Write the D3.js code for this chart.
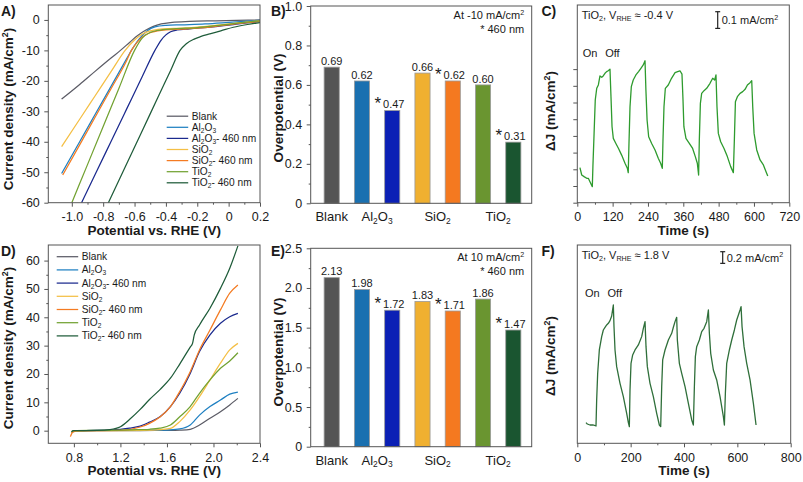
<!DOCTYPE html>
<html><head><meta charset="utf-8">
<script src="https://cdn.jsdelivr.net/npm/d3@7"></script>
<style>
body{margin:0;background:#fff}
svg{display:block;font-family:Arial,"Liberation Sans",sans-serif}
</style></head><body>
<svg id="c" width="803" height="482"></svg>
<script>
// ---------------- DATA ----------------
const seriesNames = ["Blank","Al_{2}O_{3}","Al_{2}O_{3}- 460 nm","SiO_{2}","SiO_{2}- 460 nm","TiO_{2}","TiO_{2}- 460 nm"];
const lineColors = ["#5c5c66","#1f80c2","#1b2a8e","#f4bf45","#f47b22","#72a232","#1f5c3a"];
const barCategories = ["Blank","Al2O3","Al2O3-460","SiO2","SiO2-460","TiO2","TiO2-460"];
const barColors = ["#555555","#1a70b0","#0b20b5","#f0b030","#f47920","#6a9530","#1a5530"];
const is460 = [false,false,true,false,true,false,true];
const groupLabels = ["Blank","Al_{2}O_{3}","SiO_{2}","TiO_{2}"];
const groupMembers = [["Blank"],["Al2O3","Al2O3-460"],["SiO2","SiO2-460"],["TiO2","TiO2-460"]];
const herOverpotential = [0.69,0.62,0.47,0.66,0.62,0.60,0.31];
const oerOverpotential = [2.13,1.98,1.72,1.83,1.71,1.86,1.47];

// HER LSV (E vs RHE, J mA/cm2)
const herBlank = [[-1.065,-26],[-0.95,-21.2],[-0.85,-16.8],[-0.75,-12.5],[-0.69,-10],[-0.63,-7.3],[-0.58,-5.1],[-0.53,-3.4],[-0.48,-2.1],[-0.43,-1.3],[-0.36,-0.8],[-0.25,-0.5],[-0.1,-0.3],[0.05,-0.15],[0.2,0]];
const herAl2O3 = [[-1.065,-50.4],[-0.95,-40],[-0.85,-30.9],[-0.75,-21.8],[-0.65,-12.7],[-0.62,-10],[-0.57,-6.2],[-0.52,-3.6],[-0.47,-2.3],[-0.4,-1.8],[-0.3,-1.6],[-0.15,-1.3],[0,-0.8],[0.1,-0.45],[0.2,-0.15]];
const herAl2O3_460 = [[-0.938,-60],[-0.85,-50.6],[-0.75,-39.9],[-0.65,-29.2],[-0.55,-18.5],[-0.47,-10],[-0.43,-6.6],[-0.4,-4.9],[-0.37,-3.9],[-0.33,-3.3],[-0.25,-2.9],[-0.1,-2.3],[0.05,-1.4],[0.2,-0.5]];
const herSiO2 = [[-1.065,-41.6],[-0.95,-32.6],[-0.85,-24.8],[-0.75,-17],[-0.66,-10],[-0.6,-6.6],[-0.55,-4.6],[-0.5,-3.6],[-0.45,-3.1],[-0.35,-2.8],[-0.2,-2.4],[-0.05,-1.6],[0.1,-0.8],[0.2,-0.3]];
const herSiO2_460 = [[-1.058,-50.9],[-0.95,-41],[-0.85,-31.8],[-0.75,-22.6],[-0.65,-13.3],[-0.62,-10],[-0.58,-7.1],[-0.53,-4.9],[-0.48,-3.9],[-0.4,-3.3],[-0.3,-3.0],[-0.2,-2.7],[-0.05,-1.9],[0.1,-1.0],[0.2,-0.5]];
const herTiO2 = [[-1.0,-60],[-0.9,-47.5],[-0.8,-35],[-0.7,-22.5],[-0.6,-10],[-0.55,-5.9],[-0.5,-4.1],[-0.45,-3.4],[-0.35,-2.9],[-0.2,-2.5],[-0.05,-1.7],[0.1,-0.8],[0.2,-0.3]];
const herTiO2_460 = [[-0.767,-60],[-0.65,-47.2],[-0.55,-36.3],[-0.45,-25.3],[-0.37,-16.6],[-0.31,-10],[-0.27,-7.8],[-0.22,-6.3],[-0.18,-5.5],[-0.12,-4.6],[-0.05,-3.6],[0.03,-2.4],[0.12,-1.5],[0.2,-0.9]];

// OER LSV
const oerBlank = [[0.78,-0.6],[0.8,-0.2],[0.9,0],[1.2,0],[1.5,0.1],[1.63,0.1],[1.71,0.2],[1.8,0.5],[1.88,2],[1.97,4.4],[2.06,6.7],[2.14,9.1],[2.21,11.4]];
const oerAl2O3 = [[0.78,-0.8],[0.8,-0.2],[0.9,0],[1.2,0.1],[1.5,0.2],[1.63,0.3],[1.71,0.6],[1.8,2],[1.88,5.5],[1.97,8.5],[2.06,10.8],[2.14,12.9],[2.21,13.6]];
const oerAl2O3_460 = [[0.78,-0.5],[0.8,0],[1.0,0.1],[1.2,0.5],[1.28,0.9],[1.37,1.6],[1.45,3.0],[1.54,4.9],[1.63,8.5],[1.71,13.2],[1.8,20.2],[1.88,27.9],[1.97,33.8],[2.06,37.9],[2.14,40.2],[2.21,41.4]];
const oerSiO2 = [[0.78,-0.7],[0.8,-0.2],[1.0,0],[1.4,0.1],[1.55,0.4],[1.63,0.8],[1.71,3.2],[1.8,7.3],[1.88,12],[1.97,17.9],[2.06,23.8],[2.14,28.5],[2.21,30.8]];
const oerSiO2_460 = [[0.77,-2.1],[0.79,-0.5],[0.85,0],[1.2,0.1],[1.37,1.3],[1.45,2.6],[1.54,4.8],[1.63,8.5],[1.71,13.8],[1.8,20.8],[1.88,28.5],[1.97,35.5],[2.06,42.6],[2.14,48.5],[2.21,51.4]];
const oerTiO2 = [[0.78,-0.4],[0.8,0],[1.0,0.1],[1.3,0.3],[1.45,0.5],[1.54,0.9],[1.63,2],[1.71,4.9],[1.8,8.5],[1.88,13.2],[1.97,17.9],[2.06,22],[2.14,24.6],[2.21,27.5]];
const oerTiO2_460 = [[0.78,-0.3],[0.8,0],[1.0,0.1],[1.11,0.4],[1.2,1.4],[1.28,4],[1.37,7.5],[1.45,11],[1.54,14.5],[1.63,18.5],[1.71,23.5],[1.8,29.5],[1.82,30.8],[1.835,33.8],[1.88,37.3],[1.97,43.2],[2.06,50.2],[2.14,57.3],[2.21,65.2]];

// Chopped-light transients (t in s, dJ in mA/cm2)
const herChop = [[9,0.21],[15,0.166],[23,0.156],[32,0.146],[37.5,0.146],[43,0.126],[51,0.096],
[53,0.216],[57,0.415],[61,0.615],[66,0.685],[71.5,0.705],[77,0.759],[83,0.751],[88,0.759],[94,0.775],[99.7,0.785],[105,0.79],[111,0.8],
[114.4,0.635],[118,0.455],[122.3,0.385],[131,0.355],[140,0.325],[150.6,0.285],[162,0.236],[170,0.206],[173,0.18],
[175.5,0.355],[179,0.575],[183.5,0.695],[190,0.735],[199,0.765],[208,0.785],[216,0.805],[224,0.825],[230,0.85],
[233,0.675],[237,0.495],[242.4,0.395],[252.6,0.355],[264,0.316],[275,0.266],[283,0.236],[288.7,0.206],
[291,0.375],[294.4,0.575],[299,0.685],[309,0.705],[320,0.745],[332,0.779],[340.8,0.785],[348.7,0.79],[355.5,0.77],
[359,0.615],[362,0.455],[369,0.385],[380.4,0.355],[391.7,0.325],[400.8,0.276],[407.6,0.236],[412,0.166],
[414.4,0.375],[418,0.595],[422.4,0.655],[430.3,0.671],[439.4,0.685],[450.7,0.715],[459.8,0.745],[466.6,0.735],[471,0.765],
[474.4,0.575],[479,0.415],[487,0.365],[498.3,0.325],[509.6,0.276],[521,0.216],[530,0.18],
[533.4,0.375],[537,0.605],[543.7,0.635],[552.8,0.655],[561.8,0.665],[569.8,0.679],[577.7,0.705],[586.8,0.719],[592.4,0.731],
[595.8,0.575],[600.4,0.415],[609.4,0.316],[620.7,0.256],[632,0.226],[641,0.186],[646.8,0.16]];
const oerChop = [[32.6,0.354],[37.6,0.331],[47.6,0.314],[60.1,0.314],[70.1,0.297],
[72.6,0.743],[76.4,1.2],[82.6,1.6],[91.4,1.829],[97.6,1.943],[103.9,1.989],[110.1,2.029],[116.4,2.057],[122.6,2.103],[128.9,2.183],[132.6,2.297],[135.1,2.371],
[137.6,2.0],[141.4,1.6],[147.6,1.314],[160.1,1.029],[172.6,0.8],[185.1,0.514],[191.4,0.354],[195.1,0.286],
[197.6,0.914],[201.4,1.371],[207.6,1.514],[216.4,1.6],[228.9,1.686],[241.4,1.829],[247.6,1.971],[253.9,2.086],
[257.6,1.657],[262.6,1.314],[272.6,1.029],[285.1,0.8],[297.6,0.514],[307.6,0.314],[312.6,0.286],
[316.4,0.971],[320.1,1.429],[328.9,1.6],[341.4,1.771],[353.9,1.886],[360.1,1.989],[366.4,2.086],[372.6,2.16],
[375.1,1.771],[382.6,1.371],[391.4,1.2],[403.9,0.971],[416.4,0.686],[428.9,0.4],[435.1,0.314],
[438.9,0.971],[442.6,1.486],[447.6,1.657],[457.6,1.771],[466.4,1.914],[475.1,1.971],[485.1,2.086],[491.4,2.286],
[495.1,1.886],[500.1,1.543],[510.1,1.257],[522.6,1.086],[535.1,0.8],[547.6,0.457],[551.4,0.314],
[555.1,0.857],[560.1,1.371],[570.1,1.6],[578.9,1.771],[588.9,1.943],[597.6,2.114],[603.9,2.2],[610.1,2.286],[613.9,2.343],
[617.6,2.0],[625.1,1.657],[635.1,1.371],[647.6,1.086],[660.1,0.686],[670.1,0.314]];

const herTicksX = [-1.0,-0.8,-0.6,-0.4,-0.2,0,0.2];
const herTicksY = [0,-10,-20,-30,-40,-50,-60];
const oerTicksX = [0.8,1.2,1.6,2.0,2.4];
const oerTicksY = [0,10,20,30,40,50,60];
const barTicksB = [0,0.2,0.4,0.6,0.8,1.0];
const barTicksE = [0,0.5,1.0,1.5,2.0,2.5];
const chopTicksC = [0,120,240,360,480,600,720];
const chopTicksF = [0,200,400,600,800];

// ---------------- HELPERS ----------------
const svg = d3.select('#c');
const AX = '#555', TXT = '#1a1a1a';

function rich(sel, str, fs) {
  const parts = str.split(/(_\{[^}]*\}|\^\{[^}]*\})/).filter(s => s.length);
  let shift = 0;
  parts.forEach(p => {
    let t = p, target = 0, size = fs;
    if (p.startsWith('_{')) { t = p.slice(2,-1); target = fs*0.2; size = fs*0.65; }
    else if (p.startsWith('^{')) { t = p.slice(2,-1); target = -fs*0.38; size = fs*0.65; }
    sel.append('tspan').attr('dy', target - shift).attr('font-size', size).text(t);
    shift = target;
  });
  return sel;
}
function text(x, y, str, fs, opts = {}) {
  const t = svg.append('text').attr('x', x).attr('y', y).attr('fill', TXT)
    .attr('font-size', fs).attr('text-anchor', opts.anchor || 'start')
    .attr('font-weight', opts.bold ? 'bold' : 'normal');
  if (opts.rotate) t.attr('x', 0).attr('y', 0).attr('transform', `translate(${x},${y}) rotate(-90)`).attr('dy','0.35em');
  rich(t, str, fs);
  return t;
}
function frame(x0, x1, y0, y1) {
  svg.append('rect').attr('x', x0).attr('y', y0).attr('width', x1-x0).attr('height', y1-y0)
    .attr('fill','none').attr('stroke', AX).attr('stroke-width', 1);
}
function styleAxis(g, fs) {
  g.select('.domain').remove();
  g.attr('font-family', null).attr('font-size', null);
  g.selectAll('line').attr('stroke', AX);
  g.selectAll('text').attr('font-size', fs).attr('fill', TXT);
}
function fmt1(v) { return Math.abs(v) < 1e-9 ? '0' : v.toFixed(1); }
function fmt0(v) { return String(Math.round(v)); }
function midpoints(t) { const m = []; for (let i = 0; i < t.length-1; i++) m.push((t[i]+t[i+1])/2); return m; }
function xAxis(scale, y, ticks, fmt, minor) {
  const g = svg.append('g').attr('transform', `translate(0,${y})`)
    .call(d3.axisBottom(scale).tickValues(ticks).tickSize(4).tickPadding(5.5).tickFormat(fmt));
  styleAxis(g, 12.5);
  if (minor) {
    const m = svg.append('g').attr('transform', `translate(0,${y})`)
      .call(d3.axisBottom(scale).tickValues(minor).tickSize(2).tickFormat(''));
    styleAxis(m, 12);
  }
}
function yAxis(scale, x, ticks, fmt, minor, noLabels) {
  const g = svg.append('g').attr('transform', `translate(${x},0)`)
    .call(d3.axisLeft(scale).tickValues(ticks).tickSize(4).tickPadding(4.5).tickFormat(noLabels ? '' : fmt));
  styleAxis(g, 12.5);
  if (minor) {
    const m = svg.append('g').attr('transform', `translate(${x},0)`)
      .call(d3.axisLeft(scale).tickValues(minor).tickSize(2).tickFormat(''));
    styleAxis(m, 12);
  }
}
let clipId = 0;
function clip(x0, x1, y0, y1) {
  const id = 'clip' + (clipId++);
  svg.append('clipPath').attr('id', id).append('rect').attr('x', x0).attr('y', y0).attr('width', x1-x0).attr('height', y1-y0);
  return `url(#${id})`;
}

// ---------------- PANEL A / D (LSV) ----------------
function lsvPanel(cfg) {
  const x = d3.scaleLinear().domain(cfg.xd).range([cfg.x0, cfg.x1]);
  const y = d3.scaleLinear().domain(cfg.yd).range([cfg.y1, cfg.y0]);
  const line = d3.line().x(d => x(d[0])).y(d => y(d[1])).curve(d3.curveMonotoneX);
  const cp = clip(cfg.x0, cfg.x1, cfg.y0, cfg.y1);
  const g = svg.append('g').attr('clip-path', cp);
  cfg.series.forEach((s, i) => {
    g.append('path').attr('d', line(s)).attr('fill','none').attr('stroke', lineColors[i]).attr('stroke-width', 1.25);
  });
  frame(cfg.x0, cfg.x1, cfg.y0, cfg.y1);
  xAxis(x, cfg.y1, cfg.xt, fmt1, midpoints(cfg.xt));
  yAxis(y, cfg.x0, cfg.yt, fmt0, midpoints(cfg.yt));
  // legend
  seriesNames.forEach((n, i) => {
    const yy = cfg.lgY + i*cfg.lgDy;
    svg.append('line').attr('x1', cfg.lgX).attr('x2', cfg.lgX+21.5).attr('y1', yy).attr('y2', yy)
      .attr('stroke', lineColors[i]).attr('stroke-width', 1.25);
    text(cfg.lgX+25, yy+3.5, n, 10.2);
  });
  text((cfg.x0+cfg.x1)/2, cfg.y1+32, 'Potential vs. RHE (V)', 13.5, {anchor:'middle', bold:true});
  text(12.7, cfg.ytitleY, 'Current density (mA/cm^{2})', 13.5, {anchor:'middle', bold:true, rotate:true});
}
lsvPanel({x0:48.3, x1:260, y0:5, y1:202.7, xd:[-1.15,0.2], yd:[-60,4.9],
  series:[herBlank,herAl2O3,herAl2O3_460,herSiO2,herSiO2_460,herTiO2,herTiO2_460],
  xt:herTicksX, yt:herTicksY, lgX:166.7, lgY:116.2, lgDy:11.1, ytitleY:109});
lsvPanel({x0:48.3, x1:260, y0:245, y1:443.3, xd:[0.58,2.4], yd:[-4.45,65.5],
  series:[oerBlank,oerAl2O3,oerAl2O3_460,oerSiO2,oerSiO2_460,oerTiO2,oerTiO2_460],
  xt:oerTicksX, yt:oerTicksY, lgX:56.7, lgY:256.7, lgDy:13.2, ytitleY:348});

// ---------------- PANEL B / E (bars) ----------------
function barPanel(cfg) {
  const x = d3.scaleBand().domain(barCategories).range([316.55, 528.45]).paddingInner(0.5).paddingOuter(0.25);
  const y = d3.scaleLinear().domain(cfg.yd).range([cfg.y1, cfg.y0]);
  cfg.values.forEach((v, i) => {
    const c = barCategories[i];
    svg.append('rect').attr('x', x(c)).attr('y', y(v)).attr('width', x.bandwidth()).attr('height', y(0)-y(v))
      .attr('fill', barColors[i]).attr('stroke', '#9a9a9a').attr('stroke-width', 0.8);
    const cx = x(c) + x.bandwidth()/2;
    svg.append('text').attr('x', cx + (is460[i] ? 1.5 : 0)).attr('y', y(v) - 2.2).attr('text-anchor','middle')
      .attr('font-size', 11).attr('fill', TXT).text(v.toFixed(2));
    if (is460[i]) {
      svg.append('text').attr('x', cx - 14.5).attr('y', y(v) - 1.2).attr('text-anchor','middle')
        .attr('font-size', 17).attr('fill', TXT).text('*');
    }
  });
  frame(cfg.x0, cfg.x1, cfg.y0, cfg.y1);
  yAxis(y, cfg.x0, cfg.yt, fmt1, midpoints(cfg.yt));
  groupLabels.forEach((g, i) => {
    const m = groupMembers[i];
    const cx = (x(m[0]) + x(m[m.length-1]) + x.bandwidth())/2;
    text(cx, cfg.y1 + 18, g, 13, {anchor:'middle'});
  });
  text(cfg.x1 - 7.5, cfg.y0 + 13, cfg.note, 11, {anchor:'end'});
  text(cfg.x1 - 7.5, cfg.y0 + 27, '* 460 nm', 11, {anchor:'end'});
  text(282.7, cfg.ytitleY, 'Overpotential (V)', 13.5, {anchor:'middle', bold:true, rotate:true});
}
barPanel({x0:310.7, x1:531.7, y0:6, y1:203.3, yd:[0,1.0], yt:barTicksB, values:herOverpotential,
  note:'At -10 mA/cm^{2}', ytitleY:108});
barPanel({x0:310.7, x1:531.7, y0:248.3, y1:446.7, yd:[0,2.5], yt:barTicksE, values:oerOverpotential,
  note:'At 10 mA/cm^{2}', ytitleY:352});

// ---------------- PANEL C / F (chopped light) ----------------
function chopPanel(cfg) {
  const x = d3.scaleLinear().domain(cfg.xd).range([cfg.x0, cfg.x1]);
  const y = d3.scaleLinear().domain(cfg.yd).range([cfg.y1, cfg.y0]);
  const line = d3.line().x(d => x(d[0])).y(d => y(d[1]));
  svg.append('path').attr('d', line(cfg.data)).attr('fill','none').attr('stroke', cfg.color).attr('stroke-width', 1.3)
    .attr('stroke-linejoin','round');
  frame(cfg.x0, cfg.x1, cfg.y0, cfg.y1);
  xAxis(x, cfg.y1, cfg.xt, fmt0, midpoints(cfg.xt));
  if (cfg.yTicks) yAxis(y, cfg.x0, cfg.yTicks, fmt0, null, true);
  text(cfg.x0 + 4.4, cfg.y0 + 14, `TiO_{2}, V_{RHE} ≈ ${cfg.pot}`, 11);
  text(cfg.onX, cfg.onY, 'On', 11);
  text(cfg.onX + 22.5, cfg.onY, 'Off', 11);
  // scale bar
  const sb = y(0) - y(cfg.sbVal);
  const sx = cfg.sbX, sy0 = cfg.sbY, sy1 = cfg.sbY + sb;
  svg.append('line').attr('x1', sx).attr('x2', sx).attr('y1', sy0).attr('y2', sy1).attr('stroke', '#222').attr('stroke-width', 1.2);
  [sy0, sy1].forEach(yy => svg.append('line').attr('x1', sx-2.5).attr('x2', sx+2.5).attr('y1', yy).attr('y2', yy).attr('stroke','#222').attr('stroke-width',1.2));
  text(sx + 4, (sy0+sy1)/2 + 4, `${cfg.sbVal} mA/cm^{2}`, 11);
  text((cfg.x0+cfg.x1)/2, cfg.y1 + 32, 'Time (s)', 13.5, {anchor:'middle', bold:true});
  text(555, cfg.ytitleY, 'ΔJ (mA/cm^{2})', 13.5, {anchor:'middle', bold:true, rotate:true});
}
chopPanel({x0:577.3, x1:789.3, y0:5, y1:202.7, xd:[0,720], yd:[0,1.184], xt:chopTicksC, data:herChop,
  color:'#2e9b2e', pot:'-0.4 V', onX:582.7, onY:56.5, sbVal:0.1, sbX:717.7, sbY:11.7,
  yTicks:[0,0.1,0.2,0.3,0.4,0.5,0.6,0.7,0.8], ytitleY:111});
chopPanel({x0:577.3, x1:790.7, y0:245, y1:443.3, xd:[0,800], yd:[0,3.4], xt:chopTicksF, data:oerChop,
  color:'#2f6f3a', pot:'1.8 V', onX:585, onY:297, sbVal:0.2, sbX:722.7, sbY:251.7,
  yTicks:null, ytitleY:356});

// panel letters
[['A)',1,16],['B)',271,16],['C)',541.5,16],['D)',1,256],['E)',271,256],['F)',541.5,256]].forEach(d => {
  svg.append('text').attr('x', d[1]).attr('y', d[2]).attr('font-size', 14).attr('font-weight','bold').attr('fill', TXT).text(d[0]);
});
</script>
</body></html>
